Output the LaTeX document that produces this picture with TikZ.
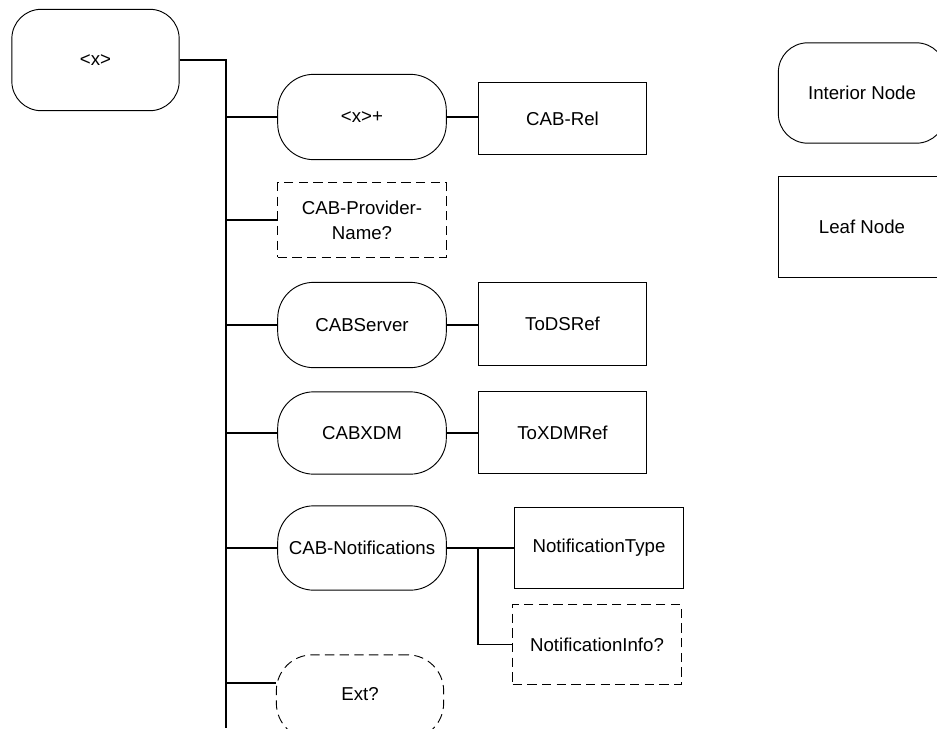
\documentclass[tikz,border=0pt]{standalone}
\usepackage{fontspec}
\setmainfont{Liberation Sans}
\usetikzlibrary{positioning}

\tikzset{
	inner/.style = {draw, line width=0.7pt, rounded corners=#1, align=center, inner sep=0pt},
	inner/.default = 27pt,
	leaf/.style = {draw, line width=0.7pt, rectangle, align=center, inner sep=0pt},
	opt/.style = {dash pattern=on 7pt off 4pt},
	wire/.style = {line width=1pt}
}

\begin{document}
\begin{tikzpicture}[x=0.75pt, y=-0.75pt, font=\fontsize{14}{18.75}\selectfont]
					\useasboundingbox (0,0) rectangle (937,728);

					\node[inner=22pt, minimum width=125bp, minimum height=75.75bp] (root) at (95.5,60) {<x>};

					\node[inner, minimum width=126bp, minimum height=63.75bp] (plus) at (362,117) {<x>+};
					\node[leaf, minimum width=125bp, minimum height=53.25bp] (rel) at (562.5,118.5) {CAB-Rel};

					\node[leaf, opt, minimum width=126bp, minimum height=55.5bp] (prov) at (362,220) {CAB-Provider-\\Name?};

					\node[inner, minimum width=126bp, minimum height=63.75bp] (server) at (362,325) {CABServer};
					\node[leaf, minimum width=125bp, minimum height=61.5bp] (dsref) at (562.5,324) {ToDSRef};

					\node[inner, minimum width=126bp, minimum height=61.5bp] (xdm) at (362,433) {CABXDM};
					\node[leaf, minimum width=125bp, minimum height=60.75bp] (xdmref) at (562.5,432.5) {ToXDMRef};

					\node[inner, minimum width=126bp, minimum height=63bp] (notif) at (362,548) {CAB-Notifications};
					\node[leaf, minimum width=126bp, minimum height=60.75bp] (ntype) at (599,548) {NotificationType};
					\node[leaf, opt, minimum width=126bp, minimum height=59.25bp] (ninfo) at (597,644.5) {NotificationInfo?};

					\node[inner, opt, minimum width=125bp, minimum height=63bp] (ext) at (360,697) {\raisebox{4pt}{Ext?}};

					\node[inner=22pt, minimum width=125bp, minimum height=75bp] (inode) at (862,93) {Interior Node};
					\node[leaf, minimum width=125bp, minimum height=75bp] (lnode) at (862,227) {Leaf Node};




					\coordinate (trunktop) at (226,60);
					\coordinate (trunkend) at (226,728);
					\coordinate (extjoin) at (226,683);
					\coordinate (nsplit) at (478,548);

					\draw [wire](root.east)--(trunktop)--(trunkend);
					\foreach \n in {plus,prov,server,xdm,notif}{
							\draw [wire](trunktop|-\n.west)--(\n.west);
						}
					\draw [wire](extjoin)--(extjoin-|ext.west);

					\foreach \a/\b in {plus/rel,server/dsref,xdm/xdmref,notif/ntype}{
							\draw [wire](\a.east)--(\a.east-|\b.west);
						}
					\draw [wire](nsplit)|-(ninfo.west);

				\end{tikzpicture}
\end{document}
